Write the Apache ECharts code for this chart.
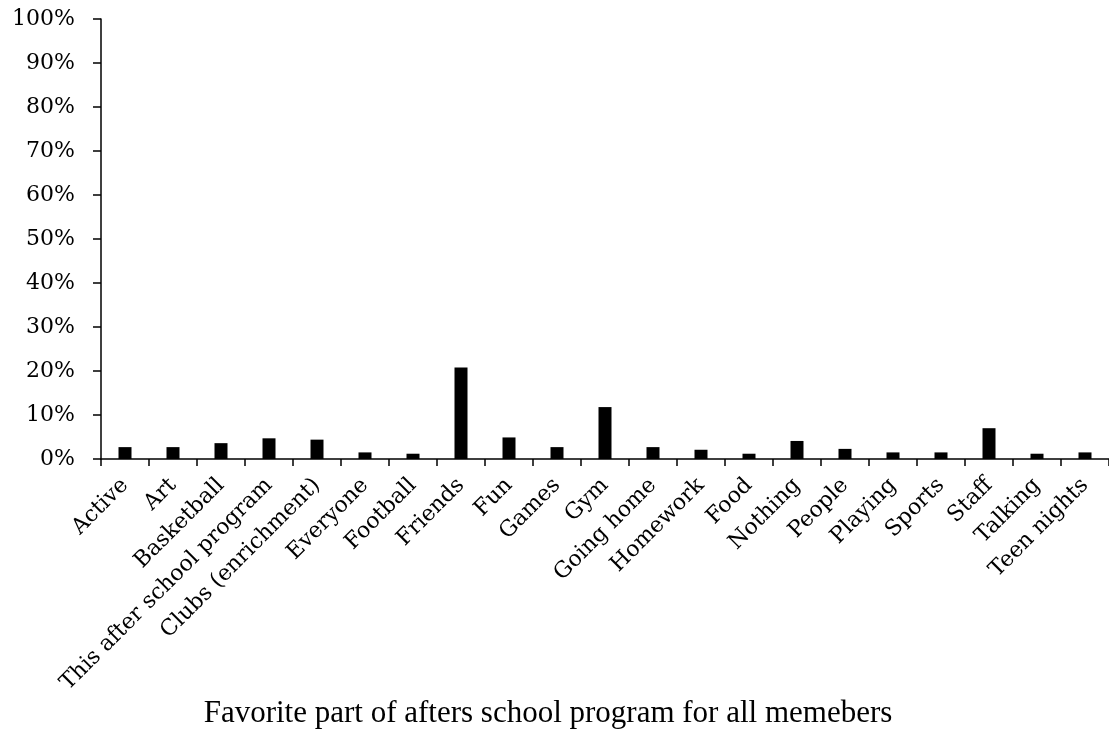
<!DOCTYPE html>
<html>
<head>
<meta charset="utf-8">
<script src="https://cdn.jsdelivr.net/npm/echarts@6/dist/echarts.min.js"></script>
<style>
  html, body { margin: 0; padding: 0; background: #fff; }
  #chart { width: 1109px; height: 729px; }
</style>
</head>
<body>
<div id="chart"></div>
<script>
// Responses: favorite part of the after school program (share of all members, %)
const categories = [
  'Active', 'Art', 'Basketball', 'This after school program', 'Clubs (enrichment)',
  'Everyone', 'Football', 'Friends', 'Fun', 'Games', 'Gym', 'Going home',
  'Homework', 'Food', 'Nothing', 'People', 'Playing', 'Sports', 'Staff',
  'Talking', 'Teen nights'
];
const shares = [
  2.7, 2.7, 3.6, 4.7, 4.4,
  1.5, 1.2, 20.8, 4.9, 2.7, 11.8, 2.7,
  2.1, 1.2, 4.1, 2.3, 1.5, 1.5, 7.0,
  1.2, 1.5
];
const yTicks = [0, 10, 20, 30, 40, 50, 60, 70, 80, 90, 100];
const xTitle = 'Favorite part of afters school program for all memebers';

const chart = echarts.init(document.getElementById('chart'), null, { renderer: 'canvas' });
const serif = '"DejaVu Serif", "Liberation Serif", serif';

chart.setOption({
  animation: false,
  backgroundColor: '#ffffff',
  grid: { left: 101, top: 19, width: 1012, height: 440, containLabel: false },
  title: {
    text: xTitle,
    left: 548,
    textAlign: 'center',
    top: 698,
    padding: 0,
    textStyle: { fontFamily: '"Liberation Serif", serif', fontSize: 31, fontWeight: 'normal', color: '#000' }
  },
  xAxis: {
    type: 'category',
    data: categories,
    axisLine: { lineStyle: { color: '#000', width: 1.5 } },
    axisTick: { show: true, length: 7, lineStyle: { color: '#000', width: 1.5 } },
    axisLabel: {
      rotate: 45,
      interval: 0,
      margin: 23,
      fontFamily: serif,
      fontSize: 22,
      color: '#000'
    }
  },
  yAxis: {
    type: 'value',
    min: yTicks[0],
    max: yTicks[yTicks.length - 1],
    interval: yTicks[1] - yTicks[0],
    splitLine: { show: false },
    axisLine: { show: true, lineStyle: { color: '#000', width: 1.5 } },
    axisTick: { show: true, length: 8, lineStyle: { color: '#000', width: 1.5 } },
    axisLabel: {
      formatter: '{value}%',
      margin: 26,
      fontFamily: serif,
      fontSize: 22,
      color: '#000'
    }
  },
  series: [{
    type: 'bar',
    data: shares,
    barWidth: 13,
    itemStyle: { color: '#000' }
  }]
});
</script>
</body>
</html>
